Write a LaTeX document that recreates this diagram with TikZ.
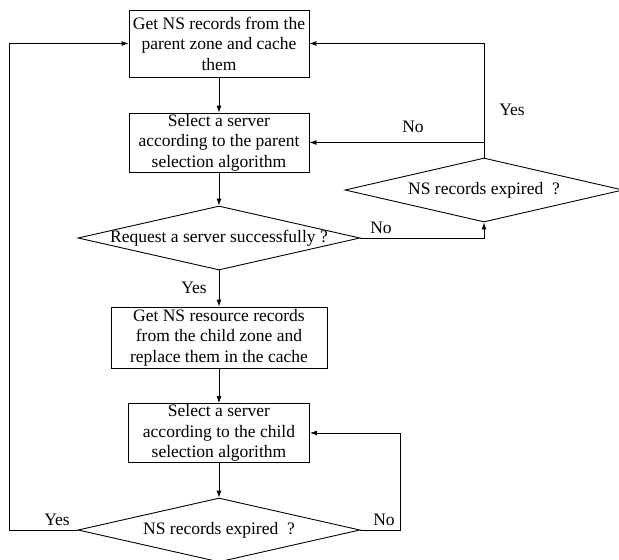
\documentclass[tikz,border=0pt]{standalone}
\usepackage{fontspec}
\setmainfont{Liberation Serif}
\usepackage{tikz}
\usetikzlibrary{arrows,arrows.meta,shapes,positioning}
\newcommand{\flowfont}{\fontsize{17.5}{20.5}\selectfont}
\tikzstyle{block} = [draw, rectangle, line width=0.9pt, align=center, inner sep=1pt, font=\flowfont]
\tikzstyle{decision} = [draw, diamond, line width=0.9pt, inner sep=0pt, minimum width=282pt, minimum height=64pt]
\tikzstyle{arrow} = [line width=0.9pt,->,>={Latex[length=7pt,width=5pt]}]
\tikzstyle{tag} = [font=\flowfont, inner sep=1pt]

\begin{document}
\begin{tikzpicture}[x=1pt, y=-1pt]
\useasboundingbox (0,0) rectangle (619,560);

% Boxes
\node[block, minimum width=180pt, minimum height=67pt] (getparent) at (219,43.5) {Get NS records from the\\parent zone and cache\\them};
\node[block, minimum width=180pt, minimum height=57pt] (selparent) at (219,142.5) {Select a server\\according to the parent\\selection algorithm};
\node[block, minimum width=216pt, minimum height=61pt] (getchild) at (219,337.5) {Get NS resource records\\from the child zone and\\replace them in the cache};
\node[block, minimum width=181pt, minimum height=58pt] (selchild) at (219,433) {Select a server\\according to the child\\selection algorithm};

% Decisions
\node[decision, label={[tag]center:Request a server successfully ?}] (request) at (219,238) {};
\node[decision, minimum width=278pt, label={[tag]center:NS records expired\ \ ?}] (expparent) at (484,190) {};
\node[decision, label={[tag]center:NS records expired\ \ ?}] (expchild) at (219,530) {};

% Corners
\coordinate (split) at (expparent.north |- selparent.east);
\coordinate (leftback) at (9,530);
\coordinate (rightback) at (400,530);

% Main flow
\draw[arrow] (getparent) -- (selparent);
\draw[arrow] (selparent) -- (request.north);
\draw[arrow] (request.south) -- (getchild);
\draw[arrow] (getchild) -- (selchild);
\draw[arrow] (selchild) -- (expchild.north);

% Loops
\draw[arrow] (request.east) -| (expparent.south);
\draw[arrow] (expparent.north) |- (getparent.east);
\draw[arrow] (split) -- (selparent.east);
\draw[arrow] (expchild.west) -- (leftback) |- (getparent.west);
\draw[arrow] (expchild.east) -- (rightback) |- (selchild.east);

% Branch labels
\node[tag] (yestop) at (512,110) {Yes};
\node[tag] (notop) at (413,127) {No};
\node[tag] (nomid) at (381,228) {No};
\node[tag] (yesmid) at (194,288) {Yes};
\node[tag] (yesbot) at (57,520) {Yes};
\node[tag] (nobot) at (384,520) {No};
\end{tikzpicture}
\end{document}
